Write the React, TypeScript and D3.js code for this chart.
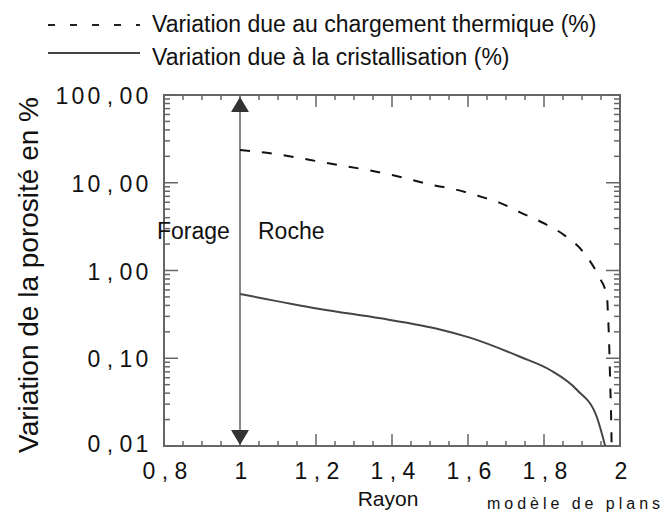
import React from "react";
import * as d3 from "d3";

const thermR = [1.0, 1.053, 1.229, 1.403, 1.508, 1.571, 1.626, 1.684, 1.737, 1.797, 1.855, 1.903, 1.942, 1.966, 1.968, 1.971, 1.974, 1.977, 1.978];
const thermV = [23.6, 22.4, 16.8, 12.2, 9.4, 8.3, 7.1, 5.9, 4.6, 3.5, 2.5, 1.63, 0.89, 0.5, 0.34, 0.17, 0.056, 0.018, 0.01];

const crystR = [1.0, 1.21, 1.37, 1.474, 1.526, 1.605, 1.737, 1.816, 1.887, 1.939, 1.961];
const crystV = [0.54, 0.365, 0.285, 0.238, 0.213, 0.172, 0.104, 0.0735, 0.0435, 0.0214, 0.01];

const xTicks = [0.8, 1, 1.2, 1.4, 1.6, 1.8, 2];
const xTickLabels = ["0,8", "1", "1,2", "1,4", "1,6", "1,8", "2"];
const yTicks = [0.01, 0.1, 1, 10, 100];
const yTickLabels = ["0,01", "0,10", "1,00", "10,00", "100,00"];

const legendLabels = ["Variation due au chargement thermique  (%)", "Variation due à la cristallisation (%)"];
const yTitle = "Variation de la porosité en %";
const xTitle = "Rayon";
const note = "modèle de plans";
const zoneLabels = ["Forage", "Roche"];
const boundary = 1.0;

const FONT = "'Liberation Sans', Arial, Helvetica, sans-serif";
const CELL = 16;

function MonoText({ text, x, y, anchor }: { text: string; x: number; y: number; anchor: "center" | "end" }) {
  const n = text.length;
  const start = anchor === "center" ? x - (n * CELL) / 2 : x - n * CELL;
  return (
    <text y={y} fontFamily={FONT} fontSize={23} fill="#111" textAnchor="middle">
      {text.split("").map((c, i) => (
        <tspan key={i} x={start + CELL * i + CELL / 2} y={y}>{c}</tspan>
      ))}
    </text>
  );
}

export default function App() {
  const left = 164, right = 620, top = 95, bottom = 446;
  const x = d3.scaleLinear().domain([0.8, 2]).range([left, right]);
  const y = d3.scaleLog().domain([0.01, 100]).range([bottom, top]);

  const line = d3
    .line<[number, number]>()
    .x((d) => x(d[0]))
    .y((d) => y(d[1]))
    .curve(d3.curveMonotoneX);

  const thermPts = thermR.map((r, i) => [r, thermV[i]] as [number, number]);
  const crystPts = crystR.map((r, i) => [r, crystV[i]] as [number, number]);

  const xMinor = d3.range(0.8, 2.0001, 0.05).map((v) => +v.toFixed(2));
  const yMinor: number[] = [];
  for (let e = -2; e < 2; e++) for (let k = 2; k <= 9; k++) yMinor.push(k * Math.pow(10, e));

  const axisColor = "#666";
  const bx = x(boundary);

  return (
    <svg width={665} height={514} style={{ position: "absolute", left: 0, top: 0, background: "#fff" }}>
      {/* legend */}
      <line x1={48} x2={140} y1={25} y2={25} stroke="#222" strokeWidth={2} strokeDasharray="7 15" />
      <text x={152} y={32} fontFamily={FONT} fontSize={23} fill="#111">{legendLabels[0]}</text>
      <line x1={48} x2={140} y1={53} y2={53} stroke="#444" strokeWidth={1.8} />
      <text x={152} y={65} fontFamily={FONT} fontSize={23} fill="#111">{legendLabels[1]}</text>

      {/* frame */}
      <rect x={left} y={top} width={right - left} height={bottom - top} fill="none" stroke={axisColor} strokeWidth={2} />

      {/* x ticks */}
      {xMinor.map((v, i) => {
        const major = xTicks.some((t) => Math.abs(t - v) < 1e-6);
        const len = major ? 12 : 5;
        return (
          <g key={"xm" + i} stroke={axisColor} strokeWidth={1.5}>
            <line x1={x(v)} x2={x(v)} y1={bottom} y2={bottom - len} />
            <line x1={x(v)} x2={x(v)} y1={top} y2={top + len} />
          </g>
        );
      })}
      {/* y ticks */}
      {yMinor.map((v, i) => (
        <g key={"ym" + i} stroke={axisColor} strokeWidth={1.5}>
          <line x1={left} x2={left + 6} y1={y(v)} y2={y(v)} />
          <line x1={right} x2={right - 6} y1={y(v)} y2={y(v)} />
        </g>
      ))}
      {yTicks.map((v, i) => (
        <g key={"yM" + i} stroke={axisColor} strokeWidth={1.5}>
          <line x1={left} x2={left + 14} y1={y(v)} y2={y(v)} />
          <line x1={right} x2={right - 14} y1={y(v)} y2={y(v)} />
        </g>
      ))}

      {/* tick labels */}
      {yTicks.map((v, i) => (
        <MonoText key={"yl" + i} text={yTickLabels[i]} x={150} y={y(v) + (i === 0 ? 6 : 9)} anchor="end" />
      ))}
      {xTicks.map((v, i) => (
        <MonoText key={"xl" + i} text={xTickLabels[i]} x={x(v) + 1} y={479} anchor="center" />
      ))}

      {/* axis titles */}
      <text
        transform={`translate(38,275) rotate(-90)`}
        textAnchor="middle"
        fontFamily={FONT}
        fontSize={28}
        fill="#111"
      >
        {yTitle}
      </text>
      <text x={388} y={506} textAnchor="middle" fontFamily={FONT} fontSize={21} fill="#111">{xTitle}</text>
      <text x={487} y={509} fontFamily={FONT} fontSize={16} fill="#111" textLength={173} lengthAdjust="spacing">{note}</text>

      {/* boundary arrow */}
      <line x1={bx} x2={bx} y1={top + 12} y2={bottom - 12} stroke="#888" strokeWidth={2} />
      <path d={`M${bx - 9},${top + 17} L${bx},${top + 2} L${bx + 9},${top + 17} Z`} fill="#333" />
      <path d={`M${bx - 9},${bottom - 16} L${bx},${bottom - 1} L${bx + 9},${bottom - 16} Z`} fill="#333" />
      <text x={bx - 83} y={239} fontFamily={FONT} fontSize={23} fill="#111">{zoneLabels[0]}</text>
      <text x={bx + 18} y={239} fontFamily={FONT} fontSize={23} fill="#111">{zoneLabels[1]}</text>

      {/* curves */}
      <path d={line(thermPts) || ""} fill="none" stroke="#111" strokeWidth={2} strokeDasharray="10 12" />
      <path d={line(crystPts) || ""} fill="none" stroke="#444" strokeWidth={2} />
    </svg>
  );
}
